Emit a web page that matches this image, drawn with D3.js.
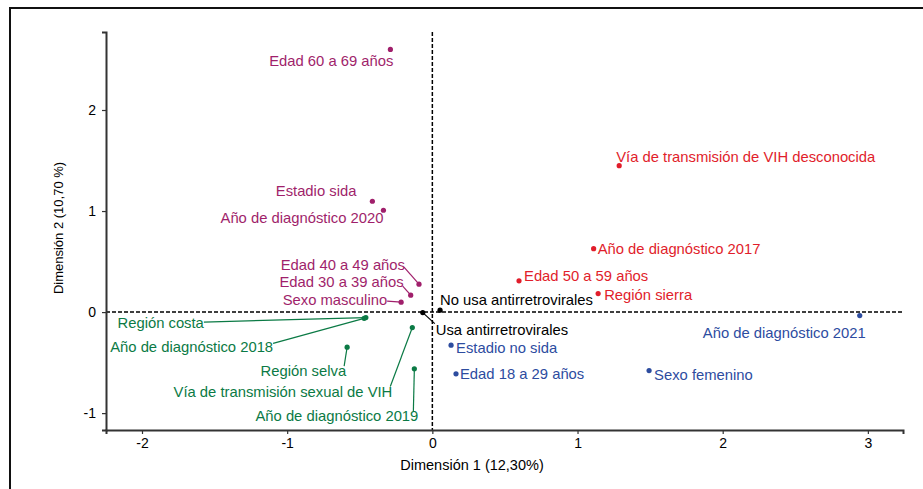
<!DOCTYPE html>
<html lang="es">
  <head>
    <meta charset="UTF-8" />
    <title>Análisis de correspondencias múltiples</title>
    <script src="https://d3js.org/d3.v7.min.js"></script>
    <style>
      body { margin: 0; background: #fff; }
      svg { display: block; font-family: "Liberation Sans", Arial, sans-serif; }
    </style>
  </head>
  <body>
    <svg width="923" height="489"></svg>
    <script>
      // categorías y coordenadas en las dos primeras dimensiones
      const categories = [
        'Edad 60 a 69 años', 'Estadio sida', 'Año de diagnóstico 2020',
        'Edad 40 a 49 años', 'Edad 30 a 39 años', 'Sexo masculino',
        'Región costa', 'Año de diagnóstico 2018', 'Región selva',
        'Vía de transmisión sexual de VIH', 'Año de diagnóstico 2019',
        'No usa antirretrovirales', 'Usa antirretrovirales',
        'Vía de transmisión de VIH desconocida', 'Año de diagnóstico 2017',
        'Edad 50 a 59 años', 'Región sierra',
        'Año de diagnóstico 2021', 'Estadio no sida', 'Edad 18 a 29 años', 'Sexo femenino',
      ];
      const dim1 = [-0.289, -0.413, -0.337, -0.092, -0.149, -0.215, -0.458, -0.470, -0.587, -0.138, -0.124,
        0.053, -0.066, 1.287, 1.111, 0.597, 1.142, 2.944, 0.129, 0.163, 1.493];
      const dim2 = [2.600, 1.097, 1.008, 0.276, 0.167, 0.098, -0.054, -0.062, -0.347, -0.153, -0.562,
        0.019, -0.005, 1.449, 0.628, 0.309, 0.183, -0.035, -0.327, -0.611, -0.579];
      const clusters = ['a', 'a', 'a', 'a', 'a', 'a', 'b', 'b', 'b', 'b', 'b',
        'c', 'c', 'd', 'd', 'd', 'd', 'e', 'e', 'e', 'e'];
      const xTicks = [-2, -1, 0, 1, 2, 3];
      const yTicks = [-1, 0, 1, 2];

      // colocación de etiquetas (px respecto al punto)
      const labelDx = [3, -16, 0, -14, -7, -14, -162, -91, -1, -20, 4, 0, 13, -3, 4, 5, 6, 6, 5, 4, 5];
      const labelDy = [11, -10, 8, -19, -13, -2, 5.6, 28, 24, 64, 47, -10, 17, -9, 0, -5, 1, 17, 3, 0, 4];
      const labelAnchor = ['end', 'end', 'end', 'end', 'end', 'end', 'end', 'end', 'end', 'end', 'end',
        'start', 'start', 'start', 'start', 'start', 'start', 'end', 'start', 'start', 'start'];
      const segDx = [null, null, null, -15, -8, -14, -162, -91, -3, -22, -1, null, 12, null, null, null, null, null, null, null, null];
      const segDy = [null, null, null, -17, -9, -1, 4.6, 25, 19, 59, 43, null, 11, null, null, null, null, null, null, null, null];

      const colors = { a: '#a01f6b', b: '#0b7a45', c: '#000000', d: '#e11d2b', e: '#2d4c9f' };

      const svg = d3.select('svg');
      const x = d3.scaleLinear().domain([-2.248, 3.242]).range([106, 903]);
      const y = d3.scaleLinear().domain([-1.167, 2.772]).range([430, 32]);

      // marco exterior
      svg.append('rect')
        .attr('x', 10).attr('y', 8).attr('width', 1000).attr('height', 1000)
        .attr('fill', 'none').attr('stroke', '#111').attr('stroke-width', 2);

      // líneas de referencia
      svg.append('line')
        .attr('x1', x.range()[0]).attr('x2', x.range()[1])
        .attr('y1', y(0)).attr('y2', y(0))
        .attr('stroke', '#000').attr('stroke-width', 1.5).attr('stroke-dasharray', '4,2');
      svg.append('line')
        .attr('x1', x(0)).attr('x2', x(0))
        .attr('y1', y.range()[1]).attr('y2', y.range()[0])
        .attr('stroke', '#000').attr('stroke-width', 1.5).attr('stroke-dasharray', '4,2');

      const xAxis = svg.append('g')
        .attr('transform', `translate(0,${y.range()[0]})`)
        .call(d3.axisBottom(x).tickValues(xTicks).tickSize(4).tickPadding(4).tickFormat(d3.format('d')));
      const yAxis = svg.append('g')
        .attr('transform', `translate(${x.range()[0]},0)`)
        .call(d3.axisLeft(y).tickValues(yTicks).tickSize(4).tickPadding(6).tickFormat(d3.format('d')));
      [xAxis, yAxis].forEach((g) => {
        g.select('.domain').attr('stroke', '#333').attr('stroke-width', 2);
        g.selectAll('.tick line').attr('stroke', '#333').attr('stroke-width', 1.2);
        g.selectAll('.tick text').attr('font-size', 14).attr('fill', '#000')
          .attr('font-family', '"Liberation Sans", Arial, sans-serif')
          .text((d) => String(d));
      });

      svg.append('text')
        .attr('x', 472).attr('y', 465).attr('dy', '0.35em')
        .attr('text-anchor', 'middle').attr('font-size', 14.5)
        .text('Dimensión 1 (12,30%)');
      svg.append('text')
        .attr('transform', 'translate(58,228) rotate(-90)')
        .attr('dy', '0.35em')
        .attr('text-anchor', 'middle').attr('font-size', 13)
        .text('Dimensión 2 (10,70 %)');

      const idx = d3.range(categories.length);

      // segmentos de etiquetas
      svg.append('g')
        .selectAll('line')
        .data(idx.filter((i) => segDx[i] !== null))
        .join('line')
        .attr('x1', (i) => x(dim1[i]))
        .attr('y1', (i) => y(dim2[i]))
        .attr('x2', (i) => x(dim1[i]) + segDx[i])
        .attr('y2', (i) => y(dim2[i]) + segDy[i])
        .attr('stroke', (i) => colors[clusters[i]])
        .attr('stroke-width', 1.2);

      svg.append('g')
        .selectAll('circle')
        .data(idx)
        .join('circle')
        .attr('cx', (i) => x(dim1[i]))
        .attr('cy', (i) => y(dim2[i]))
        .attr('r', 2.6)
        .attr('fill', (i) => colors[clusters[i]]);

      svg.append('g')
        .selectAll('text')
        .data(idx)
        .join('text')
        .attr('x', (i) => x(dim1[i]) + labelDx[i])
        .attr('y', (i) => y(dim2[i]) + labelDy[i])
        .attr('dy', '0.35em')
        .attr('text-anchor', (i) => labelAnchor[i])
        .attr('font-size', 14.8)
        .attr('fill', (i) => colors[clusters[i]])
        .text((i) => categories[i]);
    </script>
  </body>
</html>
